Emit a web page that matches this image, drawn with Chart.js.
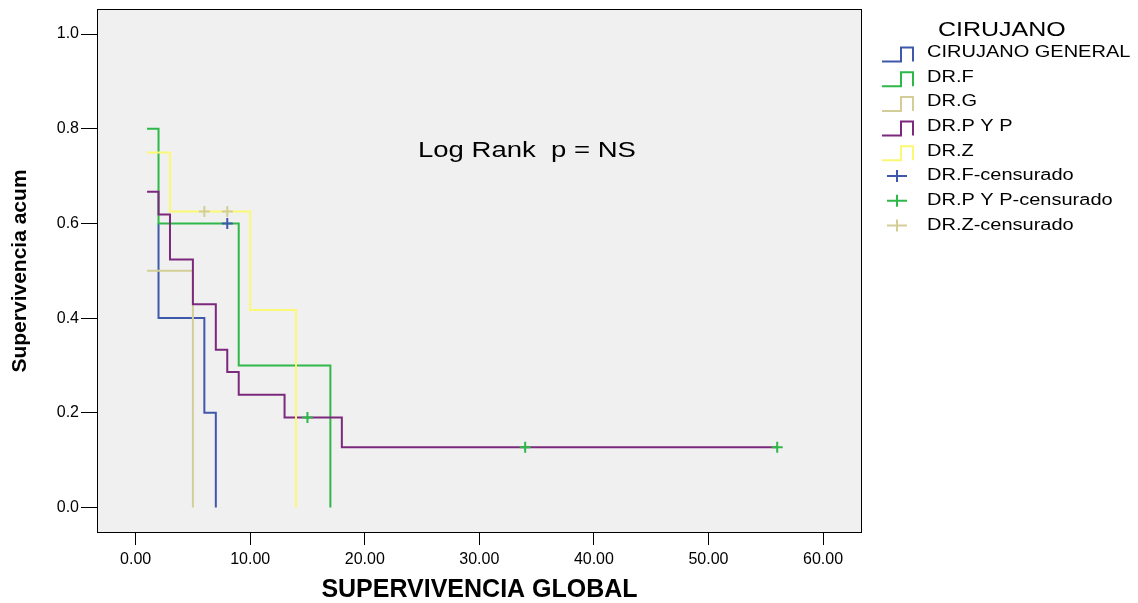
<!DOCTYPE html>
<html>
<head>
<meta charset="utf-8">
<script src="https://cdn.jsdelivr.net/npm/chart.js@4.4.1/dist/chart.umd.min.js"></script>
<style>
  html, body { margin: 0; padding: 0; background: #fff; }
  #wrap { width: 1138px; height: 603px; }
</style>
</head>
<body>
<div id="wrap"><canvas id="grafica"></canvas></div>
<script>
// supervivencia acumulada por cirujano
const tiempoCG = [2, 2, 6, 7];
const survCG = [0.6, 0.4, 0.2, 0.0];
const tiempoF = [1, 2, 9, 17];
const survF = [0.8, 0.6, 0.3, 0.0];
const tiempoG = [1, 5];
const survG = [0.5, 0.0];
const tiempoPyP = [1, 2, 3, 5, 7, 8, 9, 13, 18, 56];
const survPyP = [0.667, 0.619, 0.524, 0.429, 0.333, 0.286, 0.238, 0.190, 0.127, 0.127];
const tiempoZ = [1, 3, 10, 14];
const survZ = [0.75, 0.625, 0.417, 0.0];

// casos censurados
const censFTiempo = [8];
const censFSurv = [0.6];
const censPyPTiempo = [15, 34, 56];
const censPyPSurv = [0.19, 0.127, 0.127];
const censZTiempo = [6, 8];
const censZSurv = [0.625, 0.625];

// ejes
const xTicks = [0, 10, 20, 30, 40, 50, 60];
const yTicks = [0, 0.2, 0.4, 0.6, 0.8, 1.0];

const etiquetas = ['CIRUJANO GENERAL', 'DR.F', 'DR.G', 'DR.P Y P', 'DR.Z',
  'DR.F-censurado', 'DR.P Y P-censurado', 'DR.Z-censurado'];
const tituloLeyenda = 'CIRUJANO';
const textoLogRank = 'Log Rank  p = NS';

const azul = '#3E58AC', verde = '#2EB848', beige = '#D3CE97', morado = '#7C287D', amarillo = '#FBF873';
const fuente = 'Arial, "Liberation Sans", sans-serif';

function puntos(xs, ys) {
  return xs.map(function (x, i) { return { x: x, y: ys[i] }; });
}

function curva(nombre, xs, ys, color, orden) {
  return {
    label: nombre, data: puntos(xs, ys), showLine: true, stepped: 'before',
    borderColor: color, backgroundColor: color, borderWidth: 2, pointRadius: 0,
    borderJoinStyle: 'miter', borderCapStyle: 'butt', order: orden
  };
}

function censura(nombre, xs, ys, color, orden) {
  return {
    label: nombre, data: puntos(xs, ys), showLine: false, pointStyle: 'cross',
    pointRadius: 5.5, pointBorderWidth: 2, borderColor: color, backgroundColor: color, order: orden
  };
}

const datasets = [
  curva(etiquetas[0], tiempoCG, survCG, azul, 8),
  curva(etiquetas[1], tiempoF, survF, verde, 7),
  curva(etiquetas[2], tiempoG, survG, beige, 6),
  curva(etiquetas[3], tiempoPyP, survPyP, morado, 5),
  curva(etiquetas[4], tiempoZ, survZ, amarillo, 4),
  censura(etiquetas[5], censFTiempo, censFSurv, azul, 3),
  censura(etiquetas[6], censPyPTiempo, censPyPSurv, verde, 2),
  censura(etiquetas[7], censZTiempo, censZSurv, beige, 1)
];

// texto un poco ensanchado como en la imagen original
function textoAncho(ctx, txt, x, y) {
  ctx.save();
  ctx.scale(1.25, 1);
  ctx.fillText(txt, x / 1.25, y);
  ctx.restore();
}

// fondo gris y marco del area
const marco = {
  id: 'marco',
  beforeDraw: function (chart) {
    const a = chart.chartArea, ctx = chart.ctx;
    ctx.save();
    ctx.fillStyle = '#f0f0f0';
    ctx.fillRect(a.left, a.top, a.right - a.left, a.bottom - a.top);
    ctx.restore();
  },
  afterDraw: function (chart) {
    const a = chart.chartArea, ctx = chart.ctx;
    ctx.save();
    ctx.strokeStyle = '#000';
    ctx.lineWidth = 1;
    ctx.strokeRect(a.left + 0.5, a.top + 0.5, a.right - a.left - 1, a.bottom - a.top - 1);

    // Log Rank
    ctx.fillStyle = '#000';
    ctx.textBaseline = 'middle';
    ctx.textAlign = 'left';
    ctx.font = '22px ' + fuente;
    textoAncho(ctx, textoLogRank, 418, 151);

    // leyenda
    ctx.font = '20px ' + fuente;
    textoAncho(ctx, tituloLeyenda, 938, 30);
    ctx.font = '16px ' + fuente;
    for (let i = 0; i < etiquetas.length; i++) {
      const yc = 52.5 + i * 24.7;
      const color = datasets[i].borderColor;
      ctx.strokeStyle = color;
      ctx.lineWidth = 2;
      ctx.beginPath();
      if (i < 5) {
        ctx.moveTo(882, yc + 9);
        ctx.lineTo(901, yc + 9);
        ctx.lineTo(901, yc - 5);
        ctx.lineTo(913, yc - 5);
        ctx.lineTo(913, yc + 9);
      } else {
        ctx.moveTo(887, yc);
        ctx.lineTo(907, yc);
        ctx.moveTo(897, yc - 6);
        ctx.lineTo(897, yc + 6);
      }
      ctx.stroke();
      ctx.fillStyle = '#000';
      textoAncho(ctx, etiquetas[i], 927, yc);
    }
    ctx.restore();
  }
};

new Chart(document.getElementById('grafica'), {
  type: 'scatter',
  data: { datasets: datasets },
  plugins: [marco],
  options: {
    responsive: true,
    maintainAspectRatio: false,
    animation: false,
    layout: { padding: { left: 0, top: 9, right: 276, bottom: 0 } },
    plugins: { legend: { display: false }, tooltip: { enabled: false } },
    scales: {
      x: {
        type: 'linear', min: -3.37, max: 63.4,
        afterBuildTicks: function (s) { s.ticks = xTicks.map(function (v) { return { value: v }; }); },
        afterFit: function (s) { s.height = 70; s.paddingLeft = 0; s.paddingRight = 0; },
        ticks: {
          autoSkip: false, maxRotation: 0, padding: 5, color: '#000',
          font: { family: fuente, size: 16 },
          callback: function (v) { return v.toFixed(2); }
        },
        grid: { drawOnChartArea: false, drawTicks: true, tickLength: 12, tickColor: '#000', tickWidth: 1 },
        border: { display: false },
        title: {
          display: true, text: 'SUPERVIVENCIA GLOBAL', color: '#000',
          font: { family: fuente, size: 25, weight: 'bold', lineHeight: 1 },
          padding: { top: 0, bottom: 0 }
        }
      },
      y: {
        type: 'linear', min: -0.054, max: 1.053,
        afterBuildTicks: function (s) { s.ticks = yTicks.map(function (v) { return { value: v }; }); },
        afterFit: function (s) { s.width = 97; s.paddingTop = 0; s.paddingBottom = 0; },
        ticks: {
          autoSkip: false, padding: 2, color: '#000',
          font: { family: fuente, size: 16 },
          callback: function (v) { return v.toFixed(1); }
        },
        grid: { drawOnChartArea: false, drawTicks: true, tickLength: 16, tickColor: '#000', tickWidth: 1 },
        border: { display: false },
        title: {
          display: true, text: 'Supervivencia acum', color: '#000',
          font: { family: fuente, size: 21, weight: 'bold', lineHeight: 1.2 },
          padding: { top: 8, bottom: 0 }
        }
      }
    }
  }
});
</script>
</body>
</html>
